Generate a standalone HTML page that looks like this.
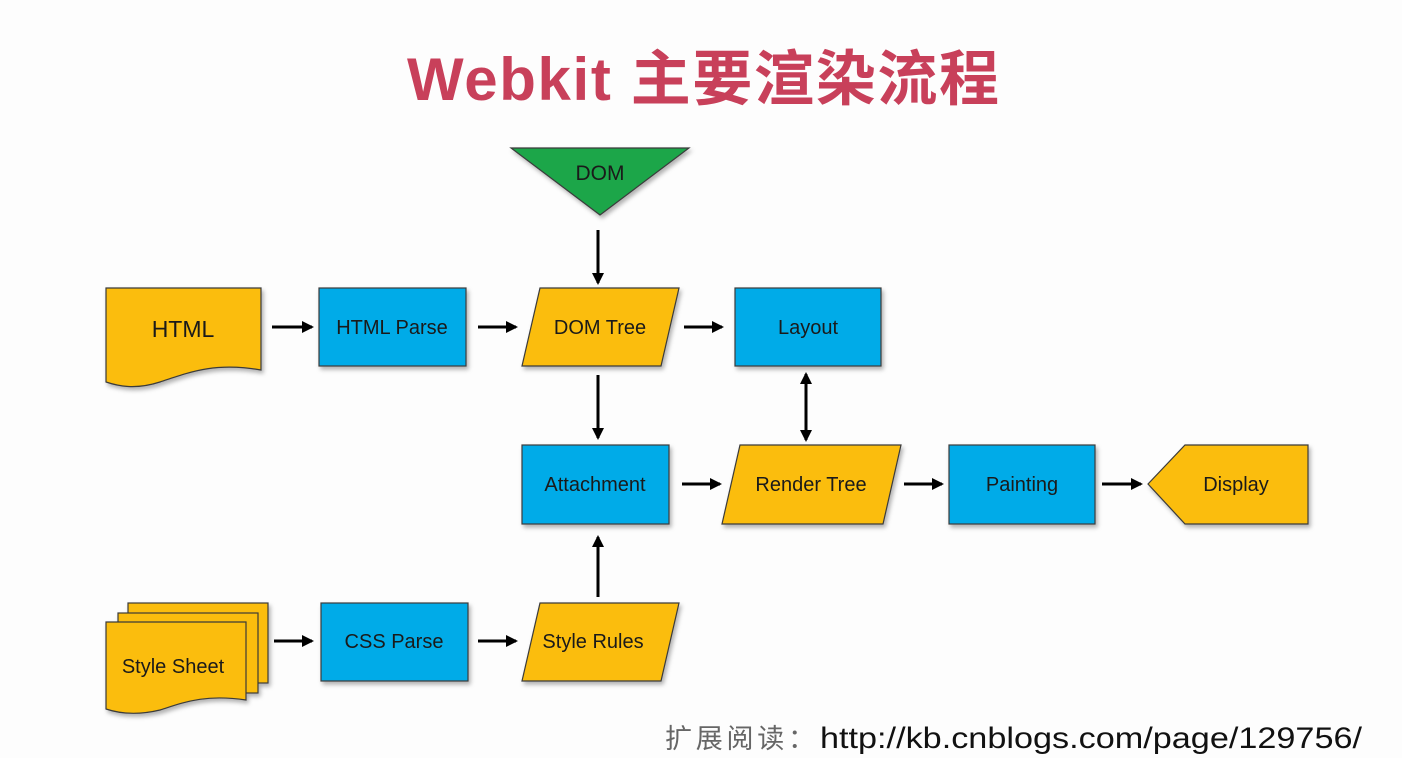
<!DOCTYPE html>
<html><head><meta charset="utf-8"><style>
html,body{margin:0;padding:0;background:#fdfdfd;}
svg{display:block;}
</style></head><body>
<svg width="1402" height="758" viewBox="0 0 1402 758" xmlns="http://www.w3.org/2000/svg">
<defs>
<marker id="ah" markerWidth="12" markerHeight="12" refX="10" refY="6" orient="auto" markerUnits="userSpaceOnUse">
<path d="M0,0 L12,6 L0,12 z" fill="#000"/>
</marker>
<marker id="ahs" markerWidth="12" markerHeight="12" refX="2" refY="6" orient="auto" markerUnits="userSpaceOnUse">
<path d="M12,0 L0,6 L12,12 z" fill="#000"/>
</marker>
<filter id="sh" x="-10%" y="-10%" width="130%" height="130%"><feDropShadow dx="2" dy="3" stdDeviation="2" flood-color="#000" flood-opacity="0.3"/></filter>
</defs>
<rect width="1402" height="758" fill="#fdfdfd"/>
<text x="703" y="100" text-anchor="middle" font-family="'Liberation Sans','Noto Sans CJK SC',sans-serif" font-weight="bold" font-size="60" fill="#c8405a" textLength="592">Webkit 主要渲染流程</text>

<g stroke="#3a3a3a" stroke-width="1.2" filter="url(#sh)">
<polygon points="511,148 689,148 600,215" fill="#1aa64a"/>
<path d="M106,288 H261 V370 C215,362 190,372 160,382 C135,390 118,386 106,382 Z" fill="#fbbd08"/>
<rect x="319" y="288" width="147" height="78" fill="#00abe8"/>
<polygon points="540,288 679,288 661,366 522,366" fill="#fbbd08"/>
<rect x="735" y="288" width="146" height="78" fill="#00abe8"/>
<rect x="522" y="445" width="147" height="79" fill="#00abe8"/>
<polygon points="740,445 901,445 883,524 722,524" fill="#fbbd08"/>
<rect x="949" y="445" width="146" height="79" fill="#00abe8"/>
<polygon points="1148,484 1185,445 1308,445 1308,524 1185,524" fill="#fbbd08"/>
<rect x="128" y="603" width="140" height="80" fill="#fbbd08"/>
<rect x="118" y="613" width="140" height="80" fill="#fbbd08"/>
<path d="M106,622 H246 V700 C205,694 185,702 160,710 C135,716 118,713 106,709 Z" fill="#fbbd08"/>
<rect x="321" y="603" width="147" height="78" fill="#00abe8"/>
<polygon points="540,603 679,603 661,681 522,681" fill="#fbbd08"/>
</g>

<g stroke="#000" stroke-width="3" fill="none" marker-end="url(#ah)">
<line x1="598" y1="230" x2="598" y2="283"/>
<line x1="272" y1="327" x2="312" y2="327"/>
<line x1="478" y1="327" x2="516" y2="327"/>
<line x1="684" y1="327" x2="722" y2="327"/>
<line x1="598" y1="375" x2="598" y2="438"/>
<line x1="806" y1="374" x2="806" y2="440" marker-start="url(#ahs)"/>
<line x1="682" y1="484" x2="720" y2="484"/>
<line x1="904" y1="484" x2="942" y2="484"/>
<line x1="1102" y1="484" x2="1141" y2="484"/>
<line x1="598" y1="597" x2="598" y2="537"/>
<line x1="274" y1="641" x2="312" y2="641"/>
<line x1="478" y1="641" x2="516" y2="641"/>
</g>

<g font-family="'Liberation Sans',sans-serif" fill="#1a1a1a" text-anchor="middle">
<text x="600" y="180" font-size="21">DOM</text>
<text x="183" y="337" font-size="23">HTML</text>
<text x="392" y="334" font-size="20">HTML Parse</text>
<text x="600" y="334" font-size="20">DOM Tree</text>
<text x="808" y="334" font-size="20">Layout</text>
<text x="595" y="491" font-size="20">Attachment</text>
<text x="811" y="491" font-size="20">Render Tree</text>
<text x="1022" y="491" font-size="20">Painting</text>
<text x="1236" y="491" font-size="20">Display</text>
<text x="173" y="673" font-size="20">Style Sheet</text>
<text x="394" y="648" font-size="20">CSS Parse</text>
<text x="593" y="648" font-size="20">Style Rules</text>
</g>

<text x="665" y="748" font-family="'Liberation Sans','Noto Sans CJK SC',sans-serif" font-size="27" fill="#666" textLength="150">扩展阅读：</text>
<text x="820" y="748" font-family="'Liberation Sans',sans-serif" font-size="30" fill="#111" textLength="542" lengthAdjust="spacingAndGlyphs">http://kb.cnblogs.com/page/129756/</text>
</svg>
</body></html>
